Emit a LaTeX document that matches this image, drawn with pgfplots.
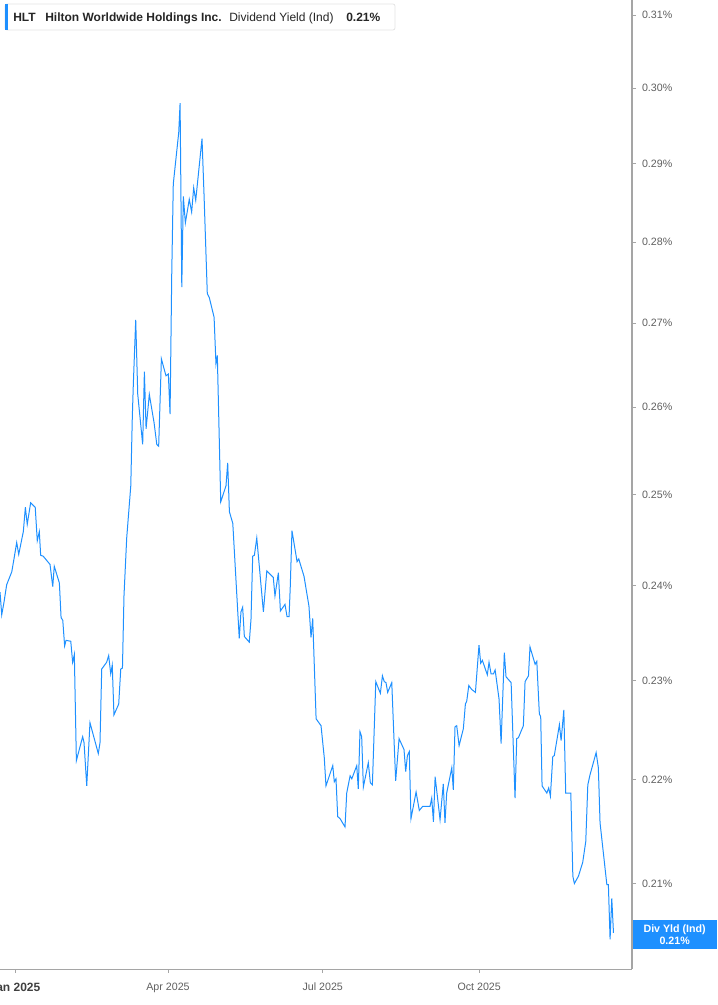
\documentclass[border=0pt]{standalone}
\usepackage{fontspec}
\setmainfont{Liberation Sans}
\usepackage{pgfplots}
\pgfplotsset{compat=1.18}
\definecolor{hblue}{RGB}{30,144,255}
\definecolor{axgray}{RGB}{165,165,165}
\definecolor{txtgray}{RGB}{95,95,95}
\definecolor{boxgray}{RGB}{228,228,228}

\begin{document}
\begin{tikzpicture}
\begin{semilogyaxis}[
    scale only axis,
    width=474pt, height=726.75pt,
    xmin=-8.82, xmax=362.9,
    ymin=0.2021, ymax=0.3121,
    axis x line=bottom, axis y line=right,
    axis line style={-, draw=axgray, line width=0.8pt},
    xtick={0,90,181,273},
    xticklabels={{\fontsize{9}{10}\selectfont\bfseries\color{black!75}Jan 2025}, Apr 2025, Jul 2025, Oct 2025},
    ytick={0.21,0.22,0.23,0.24,0.25,0.26,0.27,0.28,0.29,0.30,0.31},
    yticklabels={0.21\%,0.22\%,0.23\%,0.24\%,0.25\%,0.26\%,0.27\%,0.28\%,0.29\%,0.30\%,0.31\%},
    tick style={draw=axgray, line width=0.6pt},
    major tick length=3pt,
    tick align=outside,
    minor tick num=0,
    ticklabel style={font=\fontsize{8}{9}\selectfont, text=txtgray},
    xticklabel style={yshift=-4pt},
    yticklabel style={xshift=1pt},
]
\addplot[hblue, line width=0.75pt] coordinates {
(-8.8,0.2393) (-7.8,0.2369) (-6.5,0.2382) (-4.9,0.2401) (-1.9,0.2415) (-0.6,0.2429)
(1.0,0.2447) (2.2,0.2434) (4.9,0.2459) (6.1,0.2486) (7.2,0.2467) (9.2,0.2491)
(11.9,0.2486) (13.1,0.2449) (14.3,0.2459) (15.1,0.2433) (16.6,0.2432) (20.6,0.2423)
(22.2,0.2399) (23.1,0.2421) (26.1,0.2403) (27.1,0.2366) (28.1,0.2363) (29.2,0.2336)
(30.0,0.2342) (32.8,0.2341) (33.9,0.2319) (34.9,0.2327) (36.1,0.2219) (39.8,0.2243)
(40.6,0.2237) (42.2,0.2194) (44.1,0.2257) (49.0,0.2226) (50.0,0.2237) (51.0,0.2312)
(53.9,0.2319) (55.1,0.2326) (56.3,0.2307) (57.2,0.2316) (58.2,0.2265) (61.0,0.2276)
(62.2,0.2312) (63.2,0.2313) (64.1,0.2389) (65.7,0.2452) (68.1,0.2510) (69.0,0.2589)
(69.6,0.2627) (71.0,0.2704) (72.2,0.2615) (75.1,0.2557) (76.1,0.2642) (77.1,0.2575)
(79.0,0.2615) (81.8,0.2582) (83.4,0.2557) (84.5,0.2555) (86.1,0.2657) (88.8,0.2637)
(90.2,0.2639) (91.2,0.2592) (92.2,0.2761) (93.1,0.2874) (96.3,0.2941) (97.1,0.2980)
(98.1,0.2744) (99.0,0.2858) (100.2,0.2824) (102.5,0.2854) (103.9,0.2838) (105.1,0.2869)
(106.3,0.2853) (110.0,0.2933) (111.2,0.2859) (113.1,0.2736) (114.3,0.2731) (117.1,0.2707)
(118.2,0.2651) (119.0,0.2661) (121.0,0.2492) (124.1,0.2510) (125.1,0.2536) (126.1,0.2481)
(128.1,0.2468) (131.9,0.2344) (132.9,0.2372) (133.9,0.2377) (134.9,0.2346) (137.8,0.2340)
(138.8,0.2364) (139.8,0.2432) (140.8,0.2433) (142.2,0.2452) (146.1,0.2372) (148.1,0.2416)
(151.9,0.2409) (152.9,0.2389) (154.9,0.2414) (156.1,0.2373) (158.8,0.2380) (160.0,0.2367)
(161.2,0.2367) (161.9,0.2399) (162.9,0.2460) (165.9,0.2426) (166.9,0.2429) (170.0,0.2410)
(172.9,0.2378) (174.1,0.2345) (175.1,0.2365) (177.1,0.2261) (180.0,0.2254) (181.9,0.2222)
(182.9,0.2194) (186.9,0.2214) (187.8,0.2198) (188.8,0.2201) (189.8,0.2164) (191.2,0.2162)
(194.1,0.2154) (195.1,0.2187) (197.1,0.2204) (198.1,0.2201) (201.0,0.2214) (201.9,0.2191)
(202.9,0.2248) (203.9,0.2243) (204.9,0.2193) (207.8,0.2217) (209.0,0.2197) (210.2,0.2195)
(212.2,0.2299) (214.9,0.2287) (216.1,0.2305) (217.2,0.2299) (218.2,0.2298) (219.2,0.2288)
(221.6,0.2298) (222.9,0.2241) (223.9,0.2199) (225.9,0.2241) (228.8,0.2230) (229.8,0.2208)
(230.8,0.2224) (231.9,0.2228) (232.9,0.2162) (235.9,0.2188) (237.8,0.2170) (239.8,0.2174)
(244.1,0.2174) (245.1,0.2182) (246.1,0.2159) (247.1,0.2203) (250.0,0.2161) (251.9,0.2196)
(252.9,0.2158) (253.9,0.2187) (256.9,0.2212) (257.8,0.2190) (258.8,0.2253) (259.8,0.2254)
(261.2,0.2234) (263.7,0.2251) (264.9,0.2276) (265.7,0.2279) (266.9,0.2295) (268.6,0.2291)
(270.8,0.2288) (272.9,0.2337) (273.9,0.2318) (274.9,0.2321) (277.8,0.2306) (278.8,0.2319)
(280.0,0.2307) (281.4,0.2307) (282.4,0.2311) (284.7,0.2281) (285.9,0.2236) (287.8,0.2329)
(288.8,0.2304) (291.8,0.2298) (294.1,0.2182) (295.1,0.2241) (296.1,0.2242) (299.0,0.2254)
(300.0,0.2299) (302.0,0.2305) (302.9,0.2335) (305.9,0.2317) (306.9,0.2320) (308.4,0.2266)
(309.2,0.2263) (310.0,0.2194) (312.8,0.2187) (313.9,0.2192) (314.9,0.2184) (316.3,0.2223)
(317.2,0.2224) (320.2,0.2255) (321.2,0.2239) (322.8,0.2270) (323.9,0.2187) (326.9,0.2187)
(328.1,0.2107) (329.0,0.2100) (331.4,0.2107) (333.9,0.2120) (335.7,0.2140) (336.9,0.2195)
(338.2,0.2205) (341.8,0.2227) (343.1,0.2212) (344.1,0.2158) (348.1,0.2099) (349.0,0.2099)
(350.0,0.2048) (351.0,0.2086) (352.0,0.2054)
};
\coordinate (tl) at (rel axis cs:0,1);
\end{semilogyaxis}
% header box
\draw[draw=boxgray, fill=white, line width=0.6pt, rounded corners=1.5pt]
  ([shift={(3.75pt,-3pt)}]tl) rectangle ([shift={(296.25pt,-22.5pt)}]tl);
\fill[hblue] ([shift={(3.75pt,-3pt)}]tl) rectangle ([shift={(6pt,-22.5pt)}]tl);
\node[anchor=base west, inner sep=0, font=\fontsize{9}{10}\selectfont\bfseries, text=black!85]
  at ([shift={(9.75pt,-16pt)}]tl) {HLT};
\node[anchor=base west, inner sep=0, font=\fontsize{9}{10}\selectfont\bfseries, text=black!85]
  at ([shift={(33.75pt,-16pt)}]tl) {Hilton Worldwide Holdings Inc.};
\node[anchor=base west, inner sep=0, font=\fontsize{9}{10}\selectfont, text=black!85]
  at ([shift={(171.75pt,-16pt)}]tl) {Dividend Yield (Ind)};
\node[anchor=base west, inner sep=0, font=\fontsize{9}{10}\selectfont\bfseries, text=black!85]
  at ([shift={(259.5pt,-16pt)}]tl) {0.21\%};
% last value badge
\fill[hblue] ([shift={(474.5pt,-690pt)}]tl) rectangle ([shift={(537.75pt,-711.75pt)}]tl);
\node[align=center, inner sep=0, font=\fontsize{8}{9}\selectfont\bfseries, text=white]
  at ([shift={(506pt,-700.9pt)}]tl) {Div Yld (Ind)\\0.21\%};
\pgfresetboundingbox
\path[use as bounding box] (tl) rectangle ([shift={(537.75pt,-753.75pt)}]tl);
\end{tikzpicture}
\end{document}
